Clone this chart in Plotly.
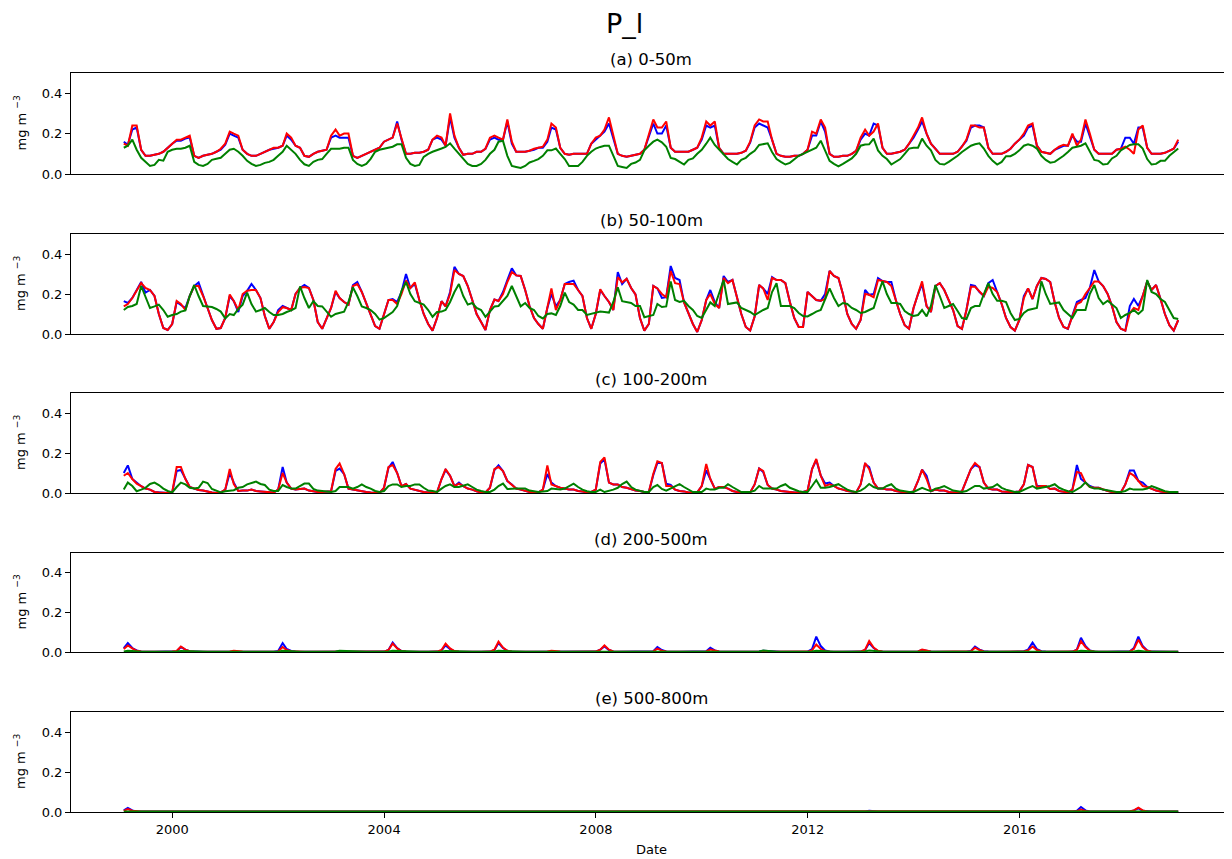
import pandas as pd
import plotly.graph_objects as go

# ---------------- data (monthly, Jan 1999 - Dec 2018) ----------------
DATES = pd.date_range("1999-01-31", periods=240, freq="ME")

PANEL_TITLES = ["(a) 0-50m", "(b) 50-100m", "(c) 100-200m", "(d) 200-500m", "(e) 500-800m"]
Y_TICKS = [0.0, 0.2, 0.4]
X_TICKS = ["2000-01-01", "2004-01-01", "2008-01-01", "2012-01-01", "2016-01-01"]
X_TICK_LABELS = ["2000", "2004", "2008", "2012", "2016"]

A_BLUE = [
    0.16, 0.145, 0.22, 0.23, 0.12, 0.09, 0.09, 0.095, 0.10, 0.11, 0.13, 0.15,
    0.165, 0.165, 0.175, 0.18, 0.09, 0.08, 0.09, 0.095, 0.10, 0.11, 0.12, 0.145,
    0.20, 0.19, 0.18, 0.12, 0.10, 0.09, 0.09, 0.10, 0.11, 0.12, 0.125, 0.13,
    0.14, 0.19, 0.17, 0.14, 0.13, 0.09, 0.085, 0.10, 0.11, 0.115, 0.12, 0.18,
    0.19, 0.18, 0.18, 0.18, 0.09, 0.08, 0.09, 0.10, 0.11, 0.12, 0.13, 0.16,
    0.17, 0.18, 0.26, 0.17, 0.10, 0.10, 0.105, 0.105, 0.11, 0.12, 0.17, 0.18,
    0.17, 0.14, 0.28, 0.18, 0.13, 0.095, 0.10, 0.10, 0.11, 0.11, 0.125, 0.17,
    0.18, 0.17, 0.17, 0.26, 0.15, 0.11, 0.11, 0.11, 0.115, 0.12, 0.13, 0.13,
    0.16, 0.23, 0.22, 0.13, 0.10, 0.095, 0.10, 0.10, 0.10, 0.10, 0.15, 0.17,
    0.19, 0.21, 0.25, 0.18, 0.10, 0.09, 0.085, 0.09, 0.095, 0.10, 0.12, 0.19,
    0.25, 0.20, 0.20, 0.24, 0.13, 0.11, 0.11, 0.11, 0.11, 0.12, 0.13, 0.17,
    0.24, 0.23, 0.24, 0.13, 0.10, 0.10, 0.10, 0.10, 0.105, 0.115, 0.155, 0.23,
    0.25, 0.24, 0.23, 0.17, 0.10, 0.09, 0.085, 0.085, 0.09, 0.09, 0.10, 0.12,
    0.19, 0.19, 0.26, 0.21, 0.10, 0.085, 0.085, 0.09, 0.09, 0.10, 0.115, 0.17,
    0.20, 0.19, 0.25, 0.24, 0.13, 0.10, 0.10, 0.105, 0.11, 0.12, 0.15, 0.18,
    0.22, 0.26, 0.20, 0.15, 0.125, 0.10, 0.10, 0.10, 0.10, 0.11, 0.135, 0.165,
    0.23, 0.24, 0.24, 0.23, 0.13, 0.10, 0.10, 0.10, 0.11, 0.125, 0.15, 0.17,
    0.19, 0.23, 0.24, 0.14, 0.11, 0.105, 0.10, 0.12, 0.13, 0.14, 0.14, 0.19,
    0.16, 0.16, 0.25, 0.19, 0.12, 0.10, 0.10, 0.10, 0.10, 0.12, 0.125, 0.18,
    0.18, 0.15, 0.23, 0.23, 0.13, 0.10, 0.10, 0.10, 0.105, 0.115, 0.125, 0.16,
]
A_RED = [
    0.15, 0.14, 0.24, 0.24, 0.12, 0.09, 0.09, 0.095, 0.10, 0.11, 0.13, 0.15,
    0.17, 0.17, 0.18, 0.19, 0.09, 0.08, 0.09, 0.095, 0.10, 0.11, 0.125, 0.15,
    0.21, 0.20, 0.19, 0.12, 0.10, 0.09, 0.09, 0.10, 0.11, 0.12, 0.13, 0.13,
    0.14, 0.20, 0.18, 0.14, 0.13, 0.09, 0.085, 0.10, 0.11, 0.115, 0.12, 0.19,
    0.22, 0.19, 0.20, 0.20, 0.09, 0.08, 0.09, 0.10, 0.11, 0.12, 0.13, 0.16,
    0.17, 0.18, 0.25, 0.18, 0.10, 0.10, 0.105, 0.105, 0.11, 0.12, 0.17, 0.19,
    0.18, 0.14, 0.30, 0.19, 0.13, 0.095, 0.10, 0.10, 0.11, 0.11, 0.125, 0.18,
    0.19, 0.18, 0.17, 0.27, 0.16, 0.11, 0.11, 0.11, 0.115, 0.125, 0.13, 0.135,
    0.17, 0.25, 0.23, 0.13, 0.10, 0.095, 0.10, 0.10, 0.10, 0.10, 0.15, 0.18,
    0.19, 0.22, 0.28, 0.19, 0.10, 0.09, 0.085, 0.09, 0.095, 0.10, 0.12, 0.20,
    0.27, 0.23, 0.23, 0.26, 0.13, 0.11, 0.11, 0.11, 0.11, 0.12, 0.13, 0.18,
    0.26, 0.24, 0.26, 0.13, 0.10, 0.10, 0.10, 0.10, 0.105, 0.115, 0.16, 0.24,
    0.27, 0.26, 0.26, 0.17, 0.10, 0.09, 0.085, 0.085, 0.09, 0.09, 0.10, 0.12,
    0.21, 0.20, 0.27, 0.23, 0.10, 0.085, 0.085, 0.09, 0.09, 0.10, 0.115, 0.18,
    0.22, 0.19, 0.21, 0.25, 0.13, 0.10, 0.10, 0.105, 0.11, 0.12, 0.15, 0.19,
    0.23, 0.28, 0.20, 0.15, 0.125, 0.10, 0.10, 0.10, 0.10, 0.11, 0.135, 0.17,
    0.24, 0.24, 0.23, 0.23, 0.13, 0.10, 0.10, 0.10, 0.11, 0.125, 0.15, 0.17,
    0.20, 0.24, 0.25, 0.14, 0.11, 0.105, 0.10, 0.12, 0.135, 0.145, 0.14, 0.20,
    0.14, 0.17, 0.27, 0.20, 0.12, 0.10, 0.10, 0.10, 0.10, 0.12, 0.125, 0.135,
    0.12, 0.10, 0.22, 0.24, 0.13, 0.10, 0.10, 0.10, 0.105, 0.115, 0.125, 0.17,
]
A_GREEN = [
    0.13, 0.14, 0.17, 0.12, 0.08, 0.06, 0.04, 0.045, 0.07, 0.066, 0.11, 0.12,
    0.125, 0.125, 0.13, 0.14, 0.06, 0.045, 0.04, 0.05, 0.07, 0.075, 0.08, 0.10,
    0.12, 0.125, 0.11, 0.09, 0.065, 0.05, 0.04, 0.045, 0.055, 0.06, 0.07, 0.09,
    0.11, 0.14, 0.12, 0.10, 0.07, 0.048, 0.04, 0.06, 0.07, 0.074, 0.10, 0.125,
    0.125, 0.125, 0.13, 0.13, 0.07, 0.05, 0.04, 0.05, 0.075, 0.11, 0.12, 0.125,
    0.13, 0.135, 0.147, 0.147, 0.08, 0.05, 0.04, 0.045, 0.085, 0.10, 0.11, 0.12,
    0.126, 0.134, 0.152, 0.126, 0.10, 0.074, 0.05, 0.04, 0.04, 0.05, 0.07, 0.10,
    0.12, 0.16, 0.164, 0.09, 0.04, 0.035, 0.03, 0.04, 0.057, 0.065, 0.074, 0.09,
    0.117, 0.117, 0.126, 0.10, 0.074, 0.04, 0.04, 0.04, 0.06, 0.09, 0.11, 0.126,
    0.134, 0.14, 0.14, 0.09, 0.04, 0.035, 0.03, 0.05, 0.057, 0.07, 0.117, 0.14,
    0.16, 0.17, 0.157, 0.135, 0.08, 0.074, 0.06, 0.047, 0.07, 0.077, 0.10, 0.12,
    0.15, 0.18, 0.144, 0.12, 0.10, 0.074, 0.06, 0.047, 0.07, 0.08, 0.10, 0.115,
    0.144, 0.148, 0.152, 0.109, 0.074, 0.06, 0.047, 0.055, 0.07, 0.09, 0.10, 0.11,
    0.12, 0.13, 0.165, 0.117, 0.065, 0.05, 0.038, 0.05, 0.065, 0.077, 0.10, 0.14,
    0.146, 0.147, 0.175, 0.117, 0.09, 0.074, 0.047, 0.06, 0.074, 0.10, 0.126, 0.13,
    0.13, 0.175, 0.14, 0.117, 0.07, 0.05, 0.047, 0.06, 0.074, 0.09, 0.109, 0.125,
    0.14, 0.147, 0.152, 0.126, 0.09, 0.065, 0.047, 0.06, 0.088, 0.088, 0.10, 0.117,
    0.14, 0.147, 0.14, 0.126, 0.09, 0.07, 0.056, 0.06, 0.074, 0.09, 0.109, 0.13,
    0.135, 0.14, 0.152, 0.109, 0.07, 0.065, 0.047, 0.05, 0.077, 0.09, 0.117, 0.13,
    0.144, 0.147, 0.147, 0.126, 0.074, 0.047, 0.05, 0.065, 0.065, 0.09, 0.11, 0.126,
]

B_BLUE = [
    0.164, 0.155, 0.18, 0.22, 0.26, 0.207, 0.22, 0.19, 0.10, 0.03, 0.02, 0.05,
    0.16, 0.145, 0.13, 0.19, 0.24, 0.258, 0.19, 0.13, 0.07, 0.026, 0.03, 0.08,
    0.19, 0.165, 0.11, 0.19, 0.216, 0.25, 0.22, 0.18, 0.09, 0.026, 0.06, 0.12,
    0.14, 0.13, 0.12, 0.20, 0.23, 0.245, 0.23, 0.17, 0.06, 0.026, 0.08, 0.13,
    0.21, 0.18, 0.16, 0.147, 0.245, 0.26, 0.21, 0.15, 0.10, 0.04, 0.026, 0.10,
    0.17, 0.175, 0.16, 0.21, 0.30, 0.23, 0.25, 0.17, 0.10, 0.05, 0.017, 0.08,
    0.164, 0.138, 0.21, 0.336, 0.30, 0.29, 0.24, 0.17, 0.10, 0.06, 0.02, 0.12,
    0.172, 0.165, 0.21, 0.27, 0.328, 0.293, 0.29, 0.22, 0.14, 0.08, 0.05, 0.026,
    0.13, 0.20, 0.138, 0.17, 0.25, 0.26, 0.267, 0.22, 0.19, 0.08, 0.026, 0.10,
    0.22, 0.19, 0.16, 0.12, 0.31, 0.25, 0.276, 0.23, 0.198, 0.08, 0.017, 0.05,
    0.24, 0.228, 0.18, 0.184, 0.34, 0.28, 0.27, 0.158, 0.10, 0.05, 0.01, 0.07,
    0.17, 0.22, 0.16, 0.13, 0.29, 0.26, 0.27, 0.18, 0.10, 0.035, 0.017, 0.087,
    0.245, 0.228, 0.20, 0.285, 0.27, 0.27, 0.254, 0.16, 0.08, 0.035, 0.035, 0.21,
    0.19, 0.17, 0.166, 0.20, 0.315, 0.29, 0.28, 0.20, 0.10, 0.05, 0.026, 0.07,
    0.22, 0.196, 0.20, 0.28, 0.265, 0.26, 0.26, 0.17, 0.10, 0.044, 0.026, 0.13,
    0.20, 0.25, 0.14, 0.11, 0.24, 0.254, 0.22, 0.17, 0.12, 0.04, 0.026, 0.12,
    0.245, 0.24, 0.21, 0.19, 0.254, 0.27, 0.21, 0.15, 0.08, 0.035, 0.017, 0.07,
    0.19, 0.228, 0.175, 0.24, 0.28, 0.275, 0.26, 0.158, 0.08, 0.035, 0.026, 0.09,
    0.16, 0.17, 0.18, 0.23, 0.32, 0.263, 0.24, 0.20, 0.14, 0.06, 0.026, 0.017,
    0.14, 0.175, 0.14, 0.19, 0.263, 0.22, 0.245, 0.175, 0.10, 0.044, 0.017, 0.07,
]
B_RED = [
    0.138, 0.15, 0.18, 0.22, 0.255, 0.23, 0.22, 0.19, 0.10, 0.03, 0.02, 0.05,
    0.165, 0.15, 0.12, 0.19, 0.24, 0.24, 0.19, 0.13, 0.07, 0.026, 0.03, 0.08,
    0.198, 0.165, 0.12, 0.20, 0.216, 0.22, 0.22, 0.18, 0.09, 0.026, 0.06, 0.11,
    0.134, 0.13, 0.12, 0.20, 0.23, 0.235, 0.23, 0.17, 0.06, 0.026, 0.08, 0.13,
    0.216, 0.18, 0.16, 0.147, 0.24, 0.25, 0.21, 0.15, 0.10, 0.04, 0.026, 0.10,
    0.17, 0.17, 0.15, 0.20, 0.267, 0.23, 0.258, 0.17, 0.10, 0.05, 0.017, 0.08,
    0.164, 0.138, 0.20, 0.32, 0.30, 0.29, 0.24, 0.17, 0.10, 0.06, 0.02, 0.12,
    0.172, 0.165, 0.20, 0.26, 0.31, 0.293, 0.29, 0.22, 0.14, 0.08, 0.05, 0.026,
    0.13, 0.228, 0.12, 0.17, 0.25, 0.25, 0.25, 0.22, 0.19, 0.08, 0.026, 0.10,
    0.224, 0.19, 0.16, 0.12, 0.284, 0.258, 0.276, 0.23, 0.198, 0.08, 0.017, 0.05,
    0.24, 0.228, 0.20, 0.184, 0.315, 0.254, 0.25, 0.158, 0.10, 0.05, 0.01, 0.07,
    0.17, 0.20, 0.15, 0.13, 0.28, 0.254, 0.27, 0.18, 0.10, 0.035, 0.017, 0.087,
    0.245, 0.228, 0.17, 0.28, 0.27, 0.27, 0.254, 0.16, 0.08, 0.035, 0.035, 0.21,
    0.19, 0.17, 0.166, 0.175, 0.315, 0.29, 0.28, 0.20, 0.10, 0.05, 0.026, 0.07,
    0.20, 0.196, 0.184, 0.27, 0.265, 0.26, 0.24, 0.17, 0.10, 0.044, 0.026, 0.13,
    0.20, 0.263, 0.14, 0.11, 0.24, 0.254, 0.22, 0.17, 0.12, 0.04, 0.026, 0.12,
    0.236, 0.236, 0.21, 0.19, 0.236, 0.23, 0.21, 0.15, 0.08, 0.035, 0.017, 0.07,
    0.18, 0.228, 0.175, 0.24, 0.28, 0.275, 0.26, 0.158, 0.08, 0.035, 0.026, 0.087,
    0.15, 0.16, 0.20, 0.23, 0.263, 0.263, 0.24, 0.20, 0.14, 0.06, 0.026, 0.017,
    0.105, 0.13, 0.12, 0.19, 0.263, 0.22, 0.245, 0.175, 0.10, 0.044, 0.017, 0.07,
]
B_GREEN = [
    0.12, 0.135, 0.14, 0.15, 0.24, 0.19, 0.13, 0.138, 0.147, 0.12, 0.086, 0.095,
    0.10, 0.112, 0.118, 0.19, 0.245, 0.19, 0.14, 0.138, 0.135, 0.125, 0.112, 0.078,
    0.10, 0.095, 0.125, 0.147, 0.207, 0.15, 0.112, 0.12, 0.13, 0.11, 0.095, 0.095,
    0.10, 0.11, 0.118, 0.13, 0.238, 0.18, 0.13, 0.164, 0.14, 0.138, 0.11, 0.086,
    0.10, 0.105, 0.112, 0.16, 0.233, 0.19, 0.138, 0.13, 0.12, 0.10, 0.072, 0.08,
    0.095, 0.11, 0.14, 0.216, 0.26, 0.20, 0.164, 0.155, 0.147, 0.12, 0.086, 0.11,
    0.112, 0.12, 0.16, 0.21, 0.25, 0.19, 0.147, 0.155, 0.13, 0.12, 0.086, 0.112,
    0.138, 0.14, 0.164, 0.19, 0.24, 0.19, 0.138, 0.155, 0.13, 0.12, 0.09, 0.078,
    0.10, 0.103, 0.095, 0.14, 0.207, 0.16, 0.147, 0.12, 0.12, 0.095, 0.10, 0.103,
    0.112, 0.11, 0.107, 0.16, 0.233, 0.164, 0.16, 0.155, 0.14, 0.14, 0.084, 0.09,
    0.095, 0.15, 0.135, 0.138, 0.263, 0.17, 0.16, 0.166, 0.14, 0.12, 0.09, 0.08,
    0.12, 0.158, 0.14, 0.20, 0.27, 0.15, 0.155, 0.158, 0.13, 0.12, 0.11, 0.095,
    0.11, 0.12, 0.13, 0.21, 0.254, 0.14, 0.14, 0.14, 0.13, 0.105, 0.09, 0.088,
    0.10, 0.112, 0.12, 0.17, 0.228, 0.18, 0.14, 0.155, 0.15, 0.13, 0.12, 0.105,
    0.11, 0.12, 0.13, 0.20, 0.263, 0.20, 0.155, 0.155, 0.15, 0.115, 0.10, 0.09,
    0.095, 0.12, 0.088, 0.14, 0.245, 0.19, 0.13, 0.14, 0.15, 0.115, 0.08, 0.075,
    0.13, 0.14, 0.14, 0.20, 0.254, 0.20, 0.166, 0.166, 0.16, 0.105, 0.07, 0.075,
    0.105, 0.12, 0.125, 0.13, 0.263, 0.20, 0.15, 0.155, 0.158, 0.12, 0.10, 0.08,
    0.12, 0.12, 0.12, 0.20, 0.245, 0.18, 0.15, 0.166, 0.15, 0.13, 0.08, 0.095,
    0.105, 0.12, 0.10, 0.12, 0.27, 0.21, 0.20, 0.175, 0.16, 0.12, 0.08, 0.075,
]

C_BLUE = [
    0.10, 0.138, 0.07, 0.052, 0.034, 0.022, 0.017, 0.005, 0.003, 0.001, 0.0, 0.003,
    0.11, 0.115, 0.07, 0.03, 0.022, 0.015, 0.012, 0.005, 0.002, 0.0, 0.003, 0.017,
    0.10, 0.052, 0.01, 0.012, 0.012, 0.017, 0.01, 0.008, 0.005, 0.003, 0.002, 0.017,
    0.13, 0.052, 0.022, 0.017, 0.02, 0.022, 0.012, 0.008, 0.005, 0.005, 0.008, 0.009,
    0.11, 0.122, 0.095, 0.022, 0.017, 0.012, 0.008, 0.005, 0.003, 0.002, 0.0, 0.026,
    0.125, 0.155, 0.10, 0.034, 0.045, 0.022, 0.015, 0.01, 0.005, 0.003, 0.003, 0.003,
    0.07, 0.115, 0.086, 0.034, 0.052, 0.034, 0.022, 0.017, 0.008, 0.003, 0.003, 0.026,
    0.115, 0.138, 0.11, 0.06, 0.043, 0.022, 0.017, 0.012, 0.005, 0.005, 0.003, 0.017,
    0.095, 0.052, 0.034, 0.026, 0.022, 0.017, 0.017, 0.01, 0.008, 0.003, 0.005, 0.017,
    0.147, 0.168, 0.052, 0.043, 0.043, 0.03, 0.026, 0.017, 0.012, 0.01, 0.005, 0.005,
    0.09, 0.15, 0.15, 0.047, 0.04, 0.017, 0.01, 0.008, 0.003, 0.003, 0.003, 0.035,
    0.113, 0.07, 0.022, 0.03, 0.03, 0.022, 0.01, 0.005, 0.003, 0.003, 0.003, 0.043,
    0.122, 0.105, 0.04, 0.022, 0.017, 0.01, 0.008, 0.005, 0.003, 0.003, 0.005, 0.012,
    0.12, 0.165, 0.087, 0.047, 0.052, 0.035, 0.022, 0.017, 0.01, 0.008, 0.003, 0.043,
    0.145, 0.13, 0.052, 0.022, 0.022, 0.017, 0.017, 0.01, 0.005, 0.003, 0.003, 0.008,
    0.06, 0.117, 0.087, 0.009, 0.017, 0.012, 0.012, 0.005, 0.003, 0.003, 0.008, 0.06,
    0.12, 0.14, 0.13, 0.052, 0.022, 0.017, 0.017, 0.008, 0.005, 0.005, 0.005, 0.008,
    0.043, 0.14, 0.13, 0.035, 0.035, 0.035, 0.02, 0.022, 0.01, 0.008, 0.003, 0.017,
    0.14, 0.07, 0.052, 0.035, 0.026, 0.026, 0.017, 0.01, 0.005, 0.003, 0.003, 0.043,
    0.113, 0.113, 0.06, 0.052, 0.03, 0.022, 0.012, 0.008, 0.005, 0.0, 0.003, 0.005,
]
C_RED = [
    0.086, 0.10, 0.07, 0.047, 0.034, 0.022, 0.017, 0.005, 0.003, 0.001, 0.0, 0.003,
    0.13, 0.13, 0.07, 0.03, 0.022, 0.015, 0.012, 0.005, 0.002, 0.0, 0.003, 0.017,
    0.12, 0.045, 0.01, 0.012, 0.012, 0.017, 0.01, 0.008, 0.005, 0.003, 0.002, 0.017,
    0.10, 0.052, 0.022, 0.017, 0.02, 0.022, 0.012, 0.008, 0.005, 0.005, 0.008, 0.009,
    0.12, 0.147, 0.095, 0.022, 0.017, 0.012, 0.008, 0.005, 0.003, 0.002, 0.0, 0.026,
    0.13, 0.14, 0.10, 0.034, 0.045, 0.022, 0.015, 0.01, 0.005, 0.003, 0.003, 0.003,
    0.07, 0.12, 0.086, 0.034, 0.047, 0.034, 0.022, 0.017, 0.008, 0.003, 0.003, 0.026,
    0.12, 0.13, 0.11, 0.06, 0.043, 0.022, 0.017, 0.012, 0.005, 0.005, 0.003, 0.017,
    0.138, 0.043, 0.034, 0.026, 0.022, 0.017, 0.017, 0.01, 0.008, 0.003, 0.005, 0.017,
    0.155, 0.178, 0.052, 0.043, 0.043, 0.03, 0.026, 0.017, 0.012, 0.01, 0.005, 0.005,
    0.096, 0.158, 0.15, 0.035, 0.035, 0.017, 0.01, 0.008, 0.003, 0.003, 0.003, 0.035,
    0.145, 0.07, 0.022, 0.03, 0.03, 0.022, 0.01, 0.005, 0.003, 0.003, 0.003, 0.043,
    0.122, 0.11, 0.04, 0.022, 0.017, 0.01, 0.008, 0.005, 0.003, 0.003, 0.005, 0.012,
    0.12, 0.17, 0.087, 0.035, 0.043, 0.035, 0.022, 0.017, 0.01, 0.008, 0.003, 0.043,
    0.15, 0.12, 0.052, 0.022, 0.022, 0.017, 0.017, 0.01, 0.005, 0.003, 0.003, 0.008,
    0.06, 0.117, 0.07, 0.009, 0.017, 0.012, 0.012, 0.005, 0.003, 0.003, 0.008, 0.06,
    0.12, 0.15, 0.13, 0.052, 0.022, 0.017, 0.017, 0.008, 0.005, 0.005, 0.005, 0.008,
    0.043, 0.14, 0.13, 0.03, 0.035, 0.035, 0.02, 0.022, 0.01, 0.008, 0.003, 0.017,
    0.105, 0.10, 0.052, 0.03, 0.026, 0.026, 0.017, 0.01, 0.005, 0.003, 0.003, 0.043,
    0.10, 0.087, 0.06, 0.035, 0.03, 0.022, 0.012, 0.008, 0.005, 0.0, 0.003, 0.005,
]
C_GREEN = [
    0.017, 0.052, 0.035, 0.009, 0.017, 0.026, 0.045, 0.052, 0.04, 0.022, 0.01, 0.003,
    0.03, 0.052, 0.043, 0.026, 0.022, 0.026, 0.057, 0.05, 0.02, 0.01, 0.003, 0.009,
    0.012, 0.014, 0.026, 0.03, 0.043, 0.05, 0.057, 0.045, 0.04, 0.017, 0.01, 0.01,
    0.04, 0.03, 0.022, 0.022, 0.035, 0.047, 0.047, 0.02, 0.012, 0.009, 0.005, 0.005,
    0.01, 0.03, 0.03, 0.03, 0.022, 0.03, 0.043, 0.03, 0.022, 0.01, 0.005, 0.01,
    0.035, 0.043, 0.043, 0.03, 0.035, 0.035, 0.043, 0.043, 0.026, 0.012, 0.01, 0.005,
    0.022, 0.035, 0.043, 0.03, 0.03, 0.035, 0.043, 0.03, 0.017, 0.01, 0.005, 0.005,
    0.017, 0.035, 0.047, 0.02, 0.022, 0.022, 0.022, 0.022, 0.012, 0.008, 0.005, 0.007,
    0.01, 0.022, 0.02, 0.017, 0.022, 0.035, 0.047, 0.03, 0.017, 0.009, 0.005, 0.005,
    0.017, 0.005, 0.01, 0.017, 0.026, 0.045, 0.057, 0.03, 0.017, 0.009, 0.005, 0.005,
    0.03, 0.04, 0.02, 0.012, 0.022, 0.035, 0.044, 0.03, 0.017, 0.005, 0.005, 0.005,
    0.022, 0.017, 0.017, 0.026, 0.026, 0.044, 0.03, 0.017, 0.005, 0.005, 0.005, 0.012,
    0.035, 0.022, 0.022, 0.022, 0.022, 0.035, 0.044, 0.026, 0.017, 0.009, 0.005, 0.005,
    0.035, 0.065, 0.026, 0.026, 0.03, 0.035, 0.044, 0.03, 0.017, 0.009, 0.005, 0.012,
    0.026, 0.045, 0.03, 0.022, 0.022, 0.035, 0.044, 0.022, 0.012, 0.009, 0.005, 0.005,
    0.017, 0.026, 0.017, 0.009, 0.022, 0.026, 0.035, 0.022, 0.012, 0.009, 0.005, 0.01,
    0.022, 0.035, 0.035, 0.022, 0.026, 0.03, 0.044, 0.026, 0.017, 0.009, 0.005, 0.005,
    0.017, 0.026, 0.035, 0.022, 0.026, 0.03, 0.035, 0.044, 0.026, 0.017, 0.009, 0.005,
    0.017, 0.03, 0.053, 0.03, 0.022, 0.022, 0.017, 0.012, 0.009, 0.005, 0.005, 0.01,
    0.022, 0.017, 0.017, 0.017, 0.022, 0.035, 0.026, 0.017, 0.009, 0.005, 0.005, 0.005,
]

D_BLUE = [
    0.02, 0.045, 0.02, 0.008, 0.003, 0.001, 0.001, 0.001, 0.001, 0.001, 0.001, 0.002,
    0.004, 0.025, 0.012, 0.004, 0.002, 0.001, 0.001, 0.001, 0.001, 0.001, 0.001, 0.001,
    0.002, 0.004, 0.003, 0.002, 0.001, 0.001, 0.001, 0.001, 0.001, 0.001, 0.001, 0.005,
    0.045, 0.015, 0.005, 0.002, 0.001, 0.001, 0.001, 0.001, 0.001, 0.001, 0.001, 0.001,
    0.002, 0.004, 0.004, 0.002, 0.001, 0.001, 0.001, 0.001, 0.001, 0.001, 0.001, 0.002,
    0.01, 0.048, 0.02, 0.005, 0.002, 0.001, 0.001, 0.001, 0.001, 0.001, 0.001, 0.002,
    0.008, 0.033, 0.015, 0.004, 0.002, 0.001, 0.001, 0.001, 0.001, 0.001, 0.001, 0.002,
    0.01, 0.045, 0.02, 0.006, 0.002, 0.001, 0.001, 0.001, 0.001, 0.001, 0.001, 0.001,
    0.002, 0.004, 0.003, 0.002, 0.001, 0.001, 0.001, 0.001, 0.001, 0.001, 0.001, 0.002,
    0.012, 0.028, 0.01, 0.003, 0.001, 0.001, 0.001, 0.001, 0.001, 0.001, 0.001, 0.001,
    0.004, 0.025, 0.01, 0.003, 0.001, 0.001, 0.001, 0.001, 0.001, 0.001, 0.001, 0.001,
    0.004, 0.022, 0.008, 0.003, 0.001, 0.001, 0.001, 0.001, 0.001, 0.001, 0.001, 0.001,
    0.002, 0.006, 0.004, 0.002, 0.001, 0.001, 0.001, 0.001, 0.001, 0.001, 0.001, 0.002,
    0.015, 0.078, 0.03, 0.008, 0.003, 0.001, 0.001, 0.001, 0.001, 0.001, 0.001, 0.002,
    0.01, 0.045, 0.02, 0.005, 0.002, 0.001, 0.001, 0.001, 0.001, 0.001, 0.001, 0.001,
    0.003, 0.01, 0.005, 0.002, 0.001, 0.001, 0.001, 0.001, 0.001, 0.001, 0.001, 0.001,
    0.005, 0.028, 0.012, 0.004, 0.002, 0.001, 0.001, 0.001, 0.001, 0.001, 0.001, 0.001,
    0.004, 0.012, 0.048, 0.015, 0.004, 0.002, 0.001, 0.001, 0.001, 0.001, 0.001, 0.002,
    0.012, 0.072, 0.03, 0.008, 0.003, 0.001, 0.001, 0.001, 0.001, 0.001, 0.001, 0.002,
    0.004, 0.02, 0.078, 0.03, 0.008, 0.002, 0.001, 0.001, 0.001, 0.001, 0.001, 0.001,
]
D_RED = [
    0.015, 0.033, 0.018, 0.006, 0.002, 0.001, 0.001, 0.001, 0.001, 0.001, 0.001, 0.002,
    0.005, 0.028, 0.012, 0.004, 0.002, 0.001, 0.001, 0.001, 0.001, 0.001, 0.001, 0.001,
    0.002, 0.006, 0.003, 0.002, 0.001, 0.001, 0.001, 0.001, 0.001, 0.001, 0.001, 0.003,
    0.025, 0.01, 0.004, 0.002, 0.001, 0.001, 0.001, 0.001, 0.001, 0.001, 0.001, 0.001,
    0.002, 0.004, 0.003, 0.002, 0.001, 0.001, 0.001, 0.001, 0.001, 0.001, 0.001, 0.002,
    0.01, 0.042, 0.018, 0.005, 0.002, 0.001, 0.001, 0.001, 0.001, 0.001, 0.001, 0.002,
    0.01, 0.042, 0.018, 0.005, 0.002, 0.001, 0.001, 0.001, 0.001, 0.001, 0.001, 0.002,
    0.012, 0.052, 0.022, 0.006, 0.002, 0.001, 0.001, 0.001, 0.001, 0.001, 0.001, 0.001,
    0.002, 0.006, 0.003, 0.002, 0.001, 0.001, 0.001, 0.001, 0.001, 0.001, 0.001, 0.002,
    0.012, 0.033, 0.012, 0.003, 0.001, 0.001, 0.001, 0.001, 0.001, 0.001, 0.001, 0.001,
    0.003, 0.017, 0.007, 0.002, 0.001, 0.001, 0.001, 0.001, 0.001, 0.001, 0.001, 0.001,
    0.003, 0.012, 0.005, 0.002, 0.001, 0.001, 0.001, 0.001, 0.001, 0.001, 0.001, 0.001,
    0.002, 0.004, 0.003, 0.002, 0.001, 0.001, 0.001, 0.001, 0.001, 0.001, 0.001, 0.002,
    0.008, 0.038, 0.015, 0.004, 0.002, 0.001, 0.001, 0.001, 0.001, 0.001, 0.001, 0.002,
    0.012, 0.055, 0.022, 0.006, 0.002, 0.001, 0.001, 0.001, 0.001, 0.001, 0.001, 0.001,
    0.003, 0.012, 0.005, 0.002, 0.001, 0.001, 0.001, 0.001, 0.001, 0.001, 0.001, 0.001,
    0.004, 0.022, 0.01, 0.003, 0.001, 0.001, 0.001, 0.001, 0.001, 0.001, 0.001, 0.001,
    0.003, 0.008, 0.028, 0.01, 0.003, 0.001, 0.001, 0.001, 0.001, 0.001, 0.001, 0.002,
    0.01, 0.055, 0.025, 0.007, 0.002, 0.001, 0.001, 0.001, 0.001, 0.001, 0.001, 0.002,
    0.003, 0.015, 0.062, 0.025, 0.006, 0.002, 0.001, 0.001, 0.001, 0.001, 0.001, 0.001,
]
D_GREEN = [
    0.003, 0.006, 0.005, 0.002, 0.001, 0.001, 0.001, 0.001, 0.001, 0.001, 0.001, 0.001,
    0.002, 0.005, 0.004, 0.002, 0.001, 0.001, 0.001, 0.001, 0.001, 0.001, 0.001, 0.001,
    0.001, 0.002, 0.002, 0.001, 0.001, 0.001, 0.001, 0.001, 0.001, 0.001, 0.001, 0.001,
    0.006, 0.004, 0.002, 0.001, 0.001, 0.001, 0.001, 0.001, 0.001, 0.001, 0.001, 0.001,
    0.002, 0.006, 0.005, 0.002, 0.001, 0.001, 0.001, 0.001, 0.001, 0.001, 0.001, 0.001,
    0.002, 0.006, 0.005, 0.002, 0.001, 0.001, 0.001, 0.001, 0.001, 0.001, 0.001, 0.001,
    0.002, 0.005, 0.004, 0.002, 0.001, 0.001, 0.001, 0.001, 0.001, 0.001, 0.001, 0.001,
    0.002, 0.006, 0.005, 0.002, 0.001, 0.001, 0.001, 0.001, 0.001, 0.001, 0.001, 0.001,
    0.001, 0.002, 0.002, 0.001, 0.001, 0.001, 0.001, 0.001, 0.001, 0.001, 0.001, 0.001,
    0.002, 0.004, 0.003, 0.001, 0.001, 0.001, 0.001, 0.001, 0.001, 0.001, 0.001, 0.001,
    0.001, 0.003, 0.002, 0.001, 0.001, 0.001, 0.001, 0.001, 0.001, 0.001, 0.001, 0.001,
    0.001, 0.003, 0.002, 0.001, 0.001, 0.001, 0.001, 0.001, 0.001, 0.001, 0.001, 0.001,
    0.003, 0.008, 0.005, 0.002, 0.001, 0.001, 0.001, 0.001, 0.001, 0.001, 0.001, 0.001,
    0.002, 0.006, 0.004, 0.002, 0.001, 0.001, 0.001, 0.001, 0.001, 0.001, 0.001, 0.001,
    0.003, 0.008, 0.005, 0.002, 0.001, 0.001, 0.001, 0.001, 0.001, 0.001, 0.001, 0.001,
    0.001, 0.003, 0.002, 0.001, 0.001, 0.001, 0.001, 0.001, 0.001, 0.001, 0.001, 0.001,
    0.001, 0.004, 0.003, 0.001, 0.001, 0.001, 0.001, 0.001, 0.001, 0.001, 0.001, 0.001,
    0.001, 0.002, 0.004, 0.002, 0.001, 0.001, 0.001, 0.001, 0.001, 0.001, 0.001, 0.001,
    0.002, 0.006, 0.004, 0.002, 0.001, 0.001, 0.001, 0.001, 0.001, 0.001, 0.001, 0.001,
    0.001, 0.003, 0.006, 0.003, 0.001, 0.001, 0.001, 0.001, 0.001, 0.001, 0.001, 0.001,
]

E_BLUE = [
    0.008, 0.02, 0.008, 0.003, 0.002, 0.002, 0.002, 0.002, 0.002, 0.002, 0.002, 0.002,
    0.002, 0.002, 0.002, 0.002, 0.002, 0.002, 0.002, 0.002, 0.002, 0.002, 0.002, 0.002,
    0.002, 0.002, 0.002, 0.002, 0.002, 0.002, 0.002, 0.002, 0.002, 0.002, 0.002, 0.002,
    0.002, 0.002, 0.002, 0.002, 0.002, 0.002, 0.002, 0.002, 0.002, 0.002, 0.002, 0.002,
    0.002, 0.002, 0.002, 0.002, 0.002, 0.002, 0.002, 0.002, 0.002, 0.002, 0.002, 0.002,
    0.002, 0.003, 0.002, 0.002, 0.002, 0.002, 0.002, 0.002, 0.002, 0.002, 0.002, 0.002,
    0.002, 0.002, 0.002, 0.002, 0.002, 0.002, 0.002, 0.002, 0.002, 0.002, 0.002, 0.002,
    0.002, 0.003, 0.003, 0.002, 0.002, 0.002, 0.002, 0.002, 0.002, 0.002, 0.002, 0.002,
    0.002, 0.002, 0.002, 0.002, 0.002, 0.002, 0.002, 0.002, 0.002, 0.002, 0.002, 0.002,
    0.002, 0.002, 0.002, 0.002, 0.002, 0.002, 0.002, 0.002, 0.002, 0.002, 0.002, 0.002,
    0.002, 0.002, 0.002, 0.002, 0.002, 0.002, 0.002, 0.002, 0.002, 0.002, 0.002, 0.002,
    0.002, 0.002, 0.002, 0.002, 0.002, 0.002, 0.002, 0.002, 0.002, 0.002, 0.002, 0.002,
    0.002, 0.002, 0.002, 0.002, 0.002, 0.002, 0.002, 0.002, 0.002, 0.002, 0.002, 0.002,
    0.002, 0.002, 0.002, 0.002, 0.002, 0.002, 0.002, 0.002, 0.002, 0.002, 0.002, 0.002,
    0.002, 0.006, 0.003, 0.002, 0.002, 0.002, 0.002, 0.002, 0.002, 0.002, 0.002, 0.002,
    0.002, 0.002, 0.002, 0.002, 0.002, 0.002, 0.002, 0.002, 0.002, 0.002, 0.002, 0.002,
    0.002, 0.003, 0.002, 0.002, 0.002, 0.002, 0.002, 0.002, 0.002, 0.002, 0.002, 0.002,
    0.002, 0.002, 0.002, 0.002, 0.002, 0.002, 0.002, 0.002, 0.002, 0.002, 0.002, 0.002,
    0.006, 0.025, 0.008, 0.003, 0.002, 0.002, 0.002, 0.002, 0.002, 0.002, 0.002, 0.002,
    0.003, 0.008, 0.018, 0.006, 0.003, 0.002, 0.002, 0.002, 0.002, 0.002, 0.002, 0.002,
]
E_RED = [
    0.006, 0.015, 0.006, 0.003, 0.002, 0.002, 0.002, 0.002, 0.002, 0.002, 0.002, 0.002,
    0.002, 0.002, 0.002, 0.002, 0.002, 0.002, 0.002, 0.002, 0.002, 0.002, 0.002, 0.002,
    0.002, 0.002, 0.002, 0.002, 0.002, 0.002, 0.002, 0.002, 0.002, 0.002, 0.002, 0.002,
    0.002, 0.002, 0.002, 0.002, 0.002, 0.002, 0.002, 0.002, 0.002, 0.002, 0.002, 0.002,
    0.002, 0.002, 0.002, 0.002, 0.002, 0.002, 0.002, 0.002, 0.002, 0.002, 0.002, 0.002,
    0.002, 0.004, 0.003, 0.002, 0.002, 0.002, 0.002, 0.002, 0.002, 0.002, 0.002, 0.002,
    0.002, 0.002, 0.002, 0.002, 0.002, 0.002, 0.002, 0.002, 0.002, 0.002, 0.002, 0.002,
    0.002, 0.004, 0.004, 0.002, 0.002, 0.002, 0.002, 0.002, 0.002, 0.002, 0.002, 0.002,
    0.002, 0.002, 0.002, 0.002, 0.002, 0.002, 0.002, 0.002, 0.002, 0.002, 0.002, 0.002,
    0.002, 0.002, 0.002, 0.002, 0.002, 0.002, 0.002, 0.002, 0.002, 0.002, 0.002, 0.002,
    0.002, 0.002, 0.002, 0.002, 0.002, 0.002, 0.002, 0.002, 0.002, 0.002, 0.002, 0.002,
    0.002, 0.002, 0.002, 0.002, 0.002, 0.002, 0.002, 0.002, 0.002, 0.002, 0.002, 0.002,
    0.002, 0.002, 0.002, 0.002, 0.002, 0.002, 0.002, 0.002, 0.002, 0.002, 0.002, 0.002,
    0.002, 0.002, 0.002, 0.002, 0.002, 0.002, 0.002, 0.002, 0.002, 0.002, 0.002, 0.002,
    0.002, 0.004, 0.003, 0.002, 0.002, 0.002, 0.002, 0.002, 0.002, 0.002, 0.002, 0.002,
    0.002, 0.002, 0.002, 0.002, 0.002, 0.002, 0.002, 0.002, 0.002, 0.002, 0.002, 0.002,
    0.002, 0.004, 0.003, 0.002, 0.002, 0.002, 0.002, 0.002, 0.002, 0.002, 0.002, 0.002,
    0.002, 0.002, 0.002, 0.002, 0.002, 0.002, 0.002, 0.002, 0.002, 0.002, 0.002, 0.002,
    0.004, 0.012, 0.005, 0.003, 0.002, 0.002, 0.002, 0.002, 0.002, 0.002, 0.002, 0.002,
    0.004, 0.008, 0.022, 0.008, 0.003, 0.002, 0.002, 0.002, 0.002, 0.002, 0.002, 0.002,
]
E_GREEN = [
    0.002, 0.003, 0.002, 0.002, 0.002, 0.002, 0.002, 0.002, 0.002, 0.002, 0.002, 0.002,
    0.002, 0.002, 0.002, 0.002, 0.002, 0.002, 0.002, 0.002, 0.002, 0.002, 0.002, 0.002,
    0.002, 0.002, 0.002, 0.002, 0.002, 0.002, 0.002, 0.002, 0.002, 0.002, 0.002, 0.002,
    0.002, 0.002, 0.002, 0.002, 0.002, 0.002, 0.002, 0.002, 0.002, 0.002, 0.002, 0.002,
    0.002, 0.002, 0.002, 0.002, 0.002, 0.002, 0.002, 0.002, 0.002, 0.002, 0.002, 0.002,
    0.002, 0.002, 0.002, 0.002, 0.002, 0.002, 0.002, 0.002, 0.002, 0.002, 0.002, 0.002,
    0.002, 0.002, 0.002, 0.002, 0.002, 0.002, 0.002, 0.002, 0.002, 0.002, 0.002, 0.002,
    0.002, 0.002, 0.002, 0.002, 0.002, 0.002, 0.002, 0.002, 0.002, 0.002, 0.002, 0.002,
    0.002, 0.002, 0.002, 0.002, 0.002, 0.002, 0.002, 0.002, 0.002, 0.002, 0.002, 0.002,
    0.002, 0.002, 0.002, 0.002, 0.002, 0.002, 0.002, 0.002, 0.002, 0.002, 0.002, 0.002,
    0.002, 0.002, 0.002, 0.002, 0.002, 0.002, 0.002, 0.002, 0.002, 0.002, 0.002, 0.002,
    0.002, 0.002, 0.002, 0.002, 0.002, 0.002, 0.002, 0.002, 0.002, 0.002, 0.002, 0.002,
    0.002, 0.002, 0.002, 0.002, 0.002, 0.002, 0.002, 0.002, 0.002, 0.002, 0.002, 0.002,
    0.002, 0.002, 0.002, 0.002, 0.002, 0.002, 0.002, 0.002, 0.002, 0.002, 0.002, 0.002,
    0.002, 0.002, 0.002, 0.002, 0.002, 0.002, 0.002, 0.002, 0.002, 0.002, 0.002, 0.002,
    0.002, 0.002, 0.002, 0.002, 0.002, 0.002, 0.002, 0.002, 0.002, 0.002, 0.002, 0.002,
    0.002, 0.002, 0.002, 0.002, 0.002, 0.002, 0.002, 0.002, 0.002, 0.002, 0.002, 0.002,
    0.002, 0.002, 0.002, 0.002, 0.002, 0.002, 0.002, 0.002, 0.002, 0.002, 0.002, 0.002,
    0.002, 0.003, 0.002, 0.002, 0.002, 0.002, 0.002, 0.002, 0.002, 0.002, 0.002, 0.002,
    0.002, 0.002, 0.003, 0.002, 0.002, 0.002, 0.002, 0.002, 0.002, 0.002, 0.002, 0.002,
]

SERIES = [
    (A_BLUE, A_RED, A_GREEN),
    (B_BLUE, B_RED, B_GREEN),
    (C_BLUE, C_RED, C_GREEN),
    (D_BLUE, D_RED, D_GREEN),
    (E_BLUE, E_RED, E_GREEN),
]
for trio in SERIES:
    for s in trio:
        assert len(s) == 240, len(s)

# ---------------- layout ----------------
# The page body has an 8 px margin, so the figure is drawn 8 px smaller and
# every target pixel position (measured on the 1232x859 window) is shifted.
OFF = 8
WIN_W, WIN_H = 1232, 859
W, H = WIN_W - OFF, WIN_H - OFF
ML, MR, MT, MB = 71 - OFF, 1, 73 - OFF, WIN_H - 812
PANEL_PX = [(73, 174), (234, 334), (393, 493), (553, 652), (712, 812)]
PH = H - MT - MB
PW = W - ML - MR
COLORS = ["#0000ff", "#ff0000", "#008000"]
FONT = "DejaVu Sans"


def ydom(top, bot):
    return [(H - MB - (bot - OFF)) / PH, (H - MB - (top - OFF)) / PH]


def px_to_paper_x(px):
    return (px - OFF - ML) / PW


def px_to_paper_y(py):
    return (H - MB - (py - OFF)) / PH


fig = go.Figure()
for k, trio in enumerate(SERIES):
    ax = "" if k == 0 else str(k + 1)
    for s, c in zip(trio, COLORS):
        fig.add_trace(go.Scatter(
            x=DATES, y=s, mode="lines",
            line=dict(color=c, width=2),
            xaxis="x" + ax, yaxis="y" + ax,
            showlegend=False, hoverinfo="skip",
        ))

layout = dict(
    width=W, height=H,
    margin=dict(l=ML, r=MR, t=MT, b=MB, pad=0),
    paper_bgcolor="white", plot_bgcolor="white",
    font=dict(family=FONT, size=13, color="black"),
    showlegend=False,
)
annotations = []
for k, (top, bot) in enumerate(PANEL_PX):
    ax = "" if k == 0 else str(k + 1)
    last = k == len(PANEL_PX) - 1
    layout["xaxis" + ax] = dict(
        domain=[0, 1], anchor="y" + ax, type="date",
        range=["1998-02-01", "2019-12-30"],
        showline=True, mirror=True, linecolor="black", linewidth=1,
        showgrid=False, zeroline=False,
        ticks="outside" if last else "", ticklen=5, tickcolor="black",
        tickvals=X_TICKS, ticktext=X_TICK_LABELS,
        showticklabels=last,
        tickfont=dict(family=FONT, size=13, color="black"),
    )
    layout["yaxis" + ax] = dict(
        domain=ydom(top, bot), anchor="x" + ax,
        range=[0, 0.5],
        tickvals=Y_TICKS, tickformat=".1f",
        showline=True, mirror=True, linecolor="black", linewidth=1,
        showgrid=False, zeroline=False,
        ticks="outside", ticklen=5, tickcolor="black",
        tickfont=dict(family=FONT, size=13, color="black"),
    )
    annotations.append(dict(
        text=PANEL_TITLES[k], xref="paper", yref="paper",
        x=0.5, y=px_to_paper_y(top), xanchor="center", yanchor="bottom",
        yshift=2, showarrow=False,
        font=dict(family=FONT, size=16.5, color="black"),
    ))
    annotations.append(dict(
        text="mg m <sup>\u22123</sup>", xref="paper", yref="paper",
        x=px_to_paper_x(20), y=px_to_paper_y((top + bot) / 2),
        xanchor="center", yanchor="middle", textangle=-90, showarrow=False,
        font=dict(family=FONT, size=13, color="black"),
    ))

annotations.append(dict(
    text="P_l", xref="paper", yref="paper",
    x=px_to_paper_x(624), y=px_to_paper_y(24), xanchor="center", yanchor="middle",
    showarrow=False, font=dict(family=FONT, size=27, color="black"),
))
annotations.append(dict(
    text="Date", xref="paper", yref="paper",
    x=px_to_paper_x(651), y=px_to_paper_y(849), xanchor="center", yanchor="middle",
    showarrow=False, font=dict(family=FONT, size=13, color="black"),
))
layout["annotations"] = annotations
fig.update_layout(**layout)

fig.write_html("out.html")
